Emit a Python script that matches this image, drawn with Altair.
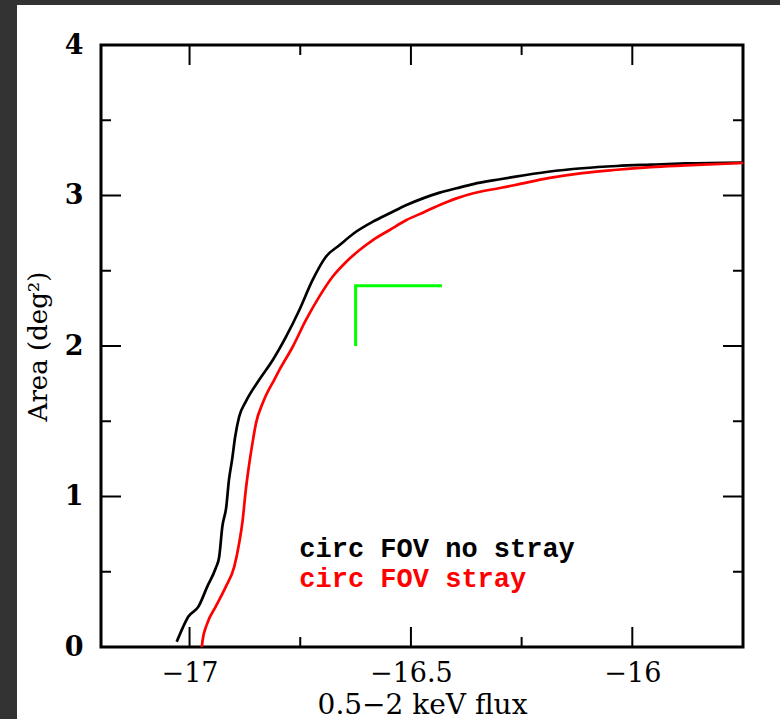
import altair as alt
import pandas as pd

# ---------------- data ----------------
black_x = [-17.029, -17.016, -17.003, -16.980, -16.960, -16.941, -16.933, -16.926, -16.917,
           -16.911, -16.904, -16.897, -16.888, -16.873, -16.843, -16.812, -16.782, -16.752,
           -16.722, -16.692, -16.661, -16.624, -16.586, -16.548, -16.510, -16.473, -16.435,
           -16.397, -16.359, -16.299, -16.267, -16.190, -16.113, -16.035, -15.958, -15.880,
           -15.749]
black_y = [0.035, 0.124, 0.201, 0.268, 0.401, 0.523, 0.600, 0.799, 0.932,
           1.110, 1.243, 1.397, 1.530, 1.630, 1.774, 1.907, 2.062, 2.239,
           2.439, 2.593, 2.671, 2.759, 2.826, 2.882, 2.937, 2.981, 3.019,
           3.048, 3.076, 3.108, 3.124, 3.158, 3.181, 3.196, 3.205, 3.213,
           3.219]

red_x = [-16.972, -16.971, -16.960, -16.941, -16.918, -16.899, -16.888, -16.880, -16.873,
         -16.865, -16.858, -16.850, -16.835, -16.827, -16.809, -16.797, -16.767, -16.737,
         -16.707, -16.677, -16.646, -16.616, -16.586, -16.548, -16.510, -16.473, -16.435,
         -16.397, -16.359, -16.299, -16.267, -16.190, -16.113, -16.035, -15.958, -15.880,
         -15.749]
red_y = [0.000, 0.035, 0.157, 0.268, 0.401, 0.534, 0.689, 0.844, 1.043,
         1.221, 1.353, 1.486, 1.619, 1.674, 1.774, 1.841, 1.995, 2.173,
         2.328, 2.460, 2.560, 2.638, 2.704, 2.771, 2.837, 2.886, 2.937,
         2.981, 3.015, 3.050, 3.068, 3.115, 3.149, 3.171, 3.189, 3.200,
         3.216]

series_names = ["circ FOV no stray", "circ FOV stray"]
series_colors = ["#000000", "#ff0000"]

legend_x = [-16.752, -16.752]
legend_y = [0.598, 0.399]

green_x = [-16.625, -16.625, -16.430]
green_y = [2.0, 2.4, 2.4]

x_major = [-17.0, -16.5, -16.0]
x_minor = [-16.75, -16.25, -15.75]
y_major = [0, 1, 2, 3, 4]
y_minor = [0.5, 1.5, 2.5, 3.5]

x_domain = [-17.2, -15.75]
y_domain = [0, 4]

# ---------------- layout ----------------
W, H = 642, 602
PAD = dict(left=101, top=45, right=37, bottom=72)

curve_df = pd.DataFrame({
    "x": black_x + red_x,
    "y": black_y + red_y,
    "series": [series_names[0]] * len(black_x) + [series_names[1]] * len(red_x),
    "i": list(range(len(black_x))) + list(range(len(red_x))),
})
legend_df = pd.DataFrame({"x": legend_x, "y": legend_y, "series": series_names, "label": series_names})
green_df = pd.DataFrame({"x": green_x, "y": green_y, "i": list(range(len(green_x)))})

xscale = alt.Scale(domain=x_domain, nice=False, zero=False)
yscale = alt.Scale(domain=y_domain, nice=False, zero=False)
cscale = alt.Scale(domain=series_names, range=series_colors)

xaxis = alt.Axis(values=x_major, format="~g", ticks=False, domain=False, grid=False,
                 labelFont="DejaVu Serif", labelFontSize=27, labelColor="black",
                 labelPadding=13, labelFlush=False,
                 title="0.5−2 keV flux", titleFont="DejaVu Serif", titleFontSize=28,
                 titleFontWeight="normal", titleColor="black",
                 titleX=W / 2, titleY=66, titleAlign="center", titleBaseline="alphabetic")
yaxis = alt.Axis(values=y_major, format="d", ticks=False, domain=False, grid=False,
                 labelFont="DejaVu Serif", labelFontSize=27, labelFontWeight="bold",
                 labelColor="black", labelPadding=18, labelFlush=False,
                 title="Area (deg²)", titleFont="DejaVu Serif", titleFontSize=26,
                 titleFontWeight="normal", titleColor="black",
                 titleX=-63, titleY=H / 2, titleAlign="center", titleBaseline="middle",
                 titleAngle=-90)


def X():
    return alt.X("x:Q", scale=xscale, axis=xaxis)


def Y():
    return alt.Y("y:Q", scale=yscale, axis=yaxis)


dummy = pd.DataFrame({"d": [0]})
strip_top = alt.Chart(dummy).mark_rect(color="#333333").encode(
    x=alt.value(-PAD["left"]), x2=alt.value(W + PAD["right"]),
    y=alt.value(-PAD["top"]), y2=alt.value(-PAD["top"] + 5))
strip_left = alt.Chart(dummy).mark_rect(color="#333333").encode(
    x=alt.value(-PAD["left"]), x2=alt.value(-PAD["left"] + 17),
    y=alt.value(-PAD["top"]), y2=alt.value(H + PAD["bottom"]))


def xticks(vals, length):
    df = pd.DataFrame({"x": vals})
    b = alt.Chart(df).mark_rule(color="black", strokeWidth=2).encode(
        x=X(), y=alt.value(H), y2=alt.value(H - length))
    t = alt.Chart(df).mark_rule(color="black", strokeWidth=2).encode(
        x=X(), y=alt.value(0), y2=alt.value(length))
    return [b, t]


def yticks(vals, length):
    df = pd.DataFrame({"y": vals})
    l = alt.Chart(df).mark_rule(color="black", strokeWidth=2).encode(
        y=Y(), x=alt.value(0), x2=alt.value(length))
    r = alt.Chart(df).mark_rule(color="black", strokeWidth=2).encode(
        y=Y(), x=alt.value(W), x2=alt.value(W - length))
    return [l, r]


curves = alt.Chart(curve_df).mark_line(strokeWidth=2.7, clip=True, interpolate="monotone").encode(
    x=X(), y=Y(),
    color=alt.Color("series:N", scale=cscale, legend=None),
    detail="series:N",
    order="i:Q")

green = alt.Chart(green_df).mark_line(color="#00ff00", strokeWidth=3, strokeJoin="miter").encode(
    x=X(), y=Y(), order="i:Q")

legend_text = alt.Chart(legend_df).mark_text(
    align="left", baseline="alphabetic", font="Liberation Mono",
    fontWeight="bold", fontSize=27).encode(
    x=X(), y=Y(), text="label:N",
    color=alt.Color("series:N", scale=cscale, legend=None))

layers = [strip_top, strip_left] + xticks(x_major, 20) + xticks(x_minor, 10) \
    + yticks(y_major, 20) + yticks(y_minor, 10) + [curves, green, legend_text]

chart = alt.layer(*layers).properties(
    width=W, height=H, autosize="none", padding=PAD, background="white"
).configure_view(stroke="black", strokeWidth=3)

chart.save("out.html", embed_options={"renderer": "svg", "actions": False})
